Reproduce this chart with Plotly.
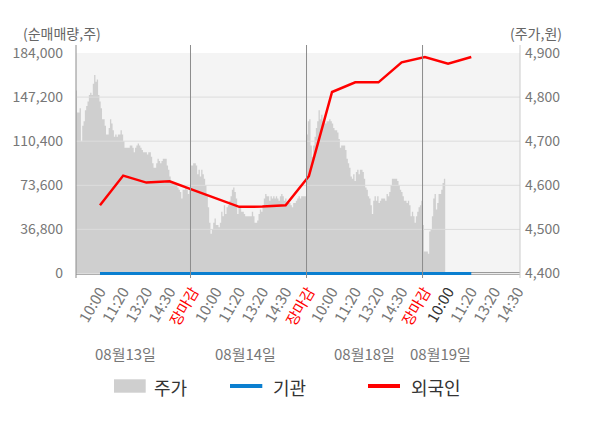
import plotly.graph_objects as go

FONT = "Noto Sans CJK KR"

# x축 라벨 (일별 시점)
tick_labels = ["10:00", "11:20", "13:20", "14:30", "장마감",
               "10:00", "11:20", "13:20", "14:30", "장마감",
               "10:00", "11:20", "13:20", "14:30", "장마감",
               "10:00", "11:20", "13:20", "14:30"]
current_tick = 15
dates = ["08월13일", "08월14일", "08월18일", "08월19일"]
date_pos = [1.11, 6.25, 11.42, 14.66]

vol_ticks = [0, 36800, 73600, 110400, 147200, 184000]
price_ticks = [4400, 4500, 4600, 4700, 4800, 4900]

# 순매매량 (주) - 시점별
foreign_net = [56940, 81700, 75870, 76950, 69780, 62530, 55610, 55860, 56940,
               81120, 151480, 159490, 159490, 176160, 180660, 175080, 180660]
inst_net = [0, 0, 0, 0, 0, 0, 0, 0, 0, 0, 0, 0, 0, 0, 0, 0, 0]

# 주가 (원) - 일중 흐름
price_0813 = [4815, 4765, 4765, 4775, 4700, 4735, 4745, 4770, 4780, 4790,
              4805, 4810, 4805, 4830, 4850, 4835, 4840, 4805, 4790, 4775,
              4750, 4750, 4735, 4715, 4715, 4730, 4750, 4740, 4725, 4710,
              4715, 4710, 4715, 4715, 4725, 4715, 4700, 4685, 4685, 4685,
              4685, 4690, 4690, 4685, 4675, 4685, 4690, 4695, 4690, 4685,
              4680, 4675, 4675, 4675, 4670, 4675, 4675, 4665, 4650, 4640,
              4640, 4650, 4660, 4655, 4650, 4655, 4660, 4660, 4660, 4645,
              4635, 4620, 4610, 4605, 4605, 4605, 4600, 4595, 4590, 4585,
              4570, 4590, 4590, 4595, 4590, 4580, 4590]
price_0814 = [4645, 4645, 4650, 4650, 4645, 4625, 4635, 4620, 4635, 4625,
              4615, 4600, 4575, 4550, 4515, 4490, 4500, 4515, 4525, 4510,
              4510, 4505, 4515, 4540, 4530, 4555, 4535, 4550, 4555, 4565,
              4575, 4590, 4595, 4585, 4570, 4535, 4550, 4550, 4540, 4540,
              4535, 4530, 4530, 4530, 4530, 4530, 4540, 4530, 4515, 4515,
              4520, 4535, 4545, 4540, 4555, 4570, 4580, 4575, 4575, 4565,
              4575, 4570, 4575, 4570, 4575, 4570, 4565, 4575, 4580, 4575,
              4565, 4570, 4560, 4565, 4560, 4555, 4550, 4560, 4560, 4565,
              4570, 4575, 4570, 4575, 4575, 4575, 4575]
price_0818 = [4715, 4745, 4750, 4690, 4665, 4690, 4710, 4730, 4745, 4770,
              4750, 4760, 4745, 4745, 4740, 4745, 4745, 4750, 4745, 4740,
              4730, 4725, 4725, 4720, 4705, 4685, 4690, 4690, 4690, 4680,
              4660, 4650, 4640, 4620, 4615, 4625, 4610, 4630, 4635, 4625,
              4635, 4635, 4630, 4615, 4595, 4590, 4575, 4570, 4555, 4535,
              4565, 4575, 4565, 4575, 4560, 4565, 4570, 4570, 4570, 4565,
              4580, 4575, 4585, 4600, 4615, 4615, 4615, 4615, 4610, 4600,
              4590, 4585, 4575, 4565, 4565, 4560, 4565, 4555, 4530, 4540,
              4530, 4515, 4530, 4540, 4550, 4555, 4565]
price_0819 = [4510, 4450, 4450, 4450, 4445, 4495, 4500, 4530, 4570, 4580,
              4545, 4560, 4580, 4580, 4590, 4605, 4615]

day_open = [-1.05, 3.9, 8.9, 13.9]
X_RANGE = [-1.034, 18.1]

# 일중 가격 x 위치
price_days = [price_0813, price_0814, price_0818, price_0819]
px_x, px_y = [], []
step = 5 / len(price_0818)
for d, vals in enumerate(price_days):
    if d + 1 < len(day_open):
        step = (day_open[d + 1] - day_open[d]) / len(vals)
    for i, v in enumerate(vals):
        px_x.append(day_open[d] + i * step)
        px_y.append(v)
px_x.append(px_x[-1] + step)
px_y.append(px_y[-1])

fig = go.Figure()

# baseline for the price area
fig.add_trace(go.Scatter(x=[px_x[0], px_x[-1]], y=[price_ticks[0]] * 2,
                         mode="lines", line=dict(width=0), hoverinfo="skip",
                         yaxis="y"))
fig.add_trace(go.Scatter(x=px_x, y=px_y, mode="lines", line_shape="hv",
                         line=dict(width=0), fill="tonexty",
                         fillcolor="#cfcfcf", name="주가", yaxis="y"))

# gridlines over the area
gx, gy = [], []
for t in price_ticks[1:-1]:
    gx += [X_RANGE[0], X_RANGE[1], None]
    gy += [t, t, None]
fig.add_trace(go.Scatter(x=gx, y=gy, mode="lines", hoverinfo="skip",
                         line=dict(color="#dcdcdc", width=1), yaxis="y"))

ks = list(range(len(foreign_net)))
fig.add_trace(go.Scatter(x=ks, y=inst_net, mode="lines", name="기관",
                         line=dict(color="#0b7fd0", width=3), yaxis="y2"))
fig.add_trace(go.Scatter(x=ks, y=foreign_net, mode="lines", name="외국인",
                         line=dict(color="#ff0000", width=2.5), yaxis="y2"))

# tick text
ticktext = []
for i, t in enumerate(tick_labels):
    if t == "장마감":
        ticktext.append('<span style="color:#ff0000">%s</span>' % t)
    elif i == current_tick:
        ticktext.append('<span style="color:#333333">%s</span>' % t)
    else:
        ticktext.append(t)

# plot area: 53px -> 275px, zero line at 273.5px
pad = 1.5 / 220.5
shapes = [
    dict(type="rect", xref="paper", yref="paper", x0=0, x1=1,
         y0=3 / 222, y1=1, fillcolor="#f4f4f4", line_width=0, layer="below"),
    dict(type="line", xref="paper", yref="paper", x0=0, x1=1,
         y0=2.5 / 222, y1=2.5 / 222, line=dict(color="#9a9a9a", width=1),
         layer="below"),
    dict(type="line", xref="paper", yref="paper", x0=0, x1=1,
         y0=0.7 / 222, y1=0.7 / 222, line=dict(color="#9a9a9a", width=1),
         layer="below"),
    dict(type="line", xref="paper", yref="paper", x0=0, x1=0,
         y0=-3 / 222, y1=230 / 222, line=dict(color="#8c8c8c", width=1)),
    dict(type="line", xref="paper", yref="paper", x0=1, x1=1,
         y0=-3 / 222, y1=230 / 222, line=dict(color="#cccccc", width=1)),
]
for b in day_open[1:]:
    shapes.append(dict(type="line", xref="x", yref="paper", x0=b, x1=b,
                       y0=-3 / 222, y1=230 / 222,
                       line=dict(color="#8c8c8c", width=1)))

# legend (custom)
def lx(p):
    return (p - 76) / 444

def ly(p):
    return (275 - p) / 222

shapes += [
    dict(type="rect", xref="paper", yref="paper", x0=lx(114), x1=lx(145.7),
         y0=ly(392.7), y1=ly(379.3), fillcolor="#cfcfcf", line_width=0),
    dict(type="line", xref="paper", yref="paper", x0=lx(230), x1=lx(262.3),
         y0=ly(386), y1=ly(386), line=dict(color="#0b7fd0", width=4)),
    dict(type="line", xref="paper", yref="paper", x0=lx(368), x1=lx(400),
         y0=ly(386), y1=ly(386), line=dict(color="#ff0000", width=4)),
]

annotations = [
    dict(text="(순매매량,주)", xref="paper", yref="paper", x=lx(61.5),
         y=ly(33), xanchor="center", yanchor="middle", showarrow=False,
         font=dict(size=14, color="#666")),
    dict(text="(주가,원)", xref="paper", yref="paper", x=lx(536),
         y=ly(33), xanchor="center", yanchor="middle", showarrow=False,
         font=dict(size=14, color="#666")),
]
for name, xpos in zip(["주가", "기관", "외국인"], [152, 270.5, 409]):
    annotations.append(dict(text=name, xref="paper", yref="paper",
                            x=lx(xpos), y=ly(386.7), xanchor="left",
                            yanchor="middle", showarrow=False,
                            font=dict(size=18, color="#333")))
for dt, xp in zip(dates, date_pos):
    annotations.append(dict(text=dt, xref="x", yref="paper", x=xp,
                            y=ly(353.3), xanchor="center", yanchor="middle",
                            showarrow=False,
                            font=dict(size=15, color="#777")))

fig.update_layout(
    width=600, height=428,
    margin=dict(l=76, r=80, t=53, b=153),
    paper_bgcolor="white",
    plot_bgcolor="rgba(0,0,0,0)",
    showlegend=False,
    hovermode=False,
    font=dict(family=FONT, size=14, color="#777"),
    xaxis=dict(range=X_RANGE, tickvals=list(range(len(tick_labels))),
               ticktext=ticktext, tickangle=-60, tickfont=dict(size=15),
               showgrid=False, zeroline=False, showline=False, ticks="",
               ticklabelstandoff=4),
    yaxis=dict(side="right", tickvals=price_ticks, tickformat=",",
               range=[price_ticks[0] - 500 * pad, price_ticks[-1]],
               showgrid=False, zeroline=False, showline=False, ticks="",
               ticklabelstandoff=4),
    yaxis2=dict(side="left", overlaying="y", tickvals=vol_ticks,
                tickformat=",", range=[-vol_ticks[-1] * pad, vol_ticks[-1]],
                showgrid=False, zeroline=False, showline=False, ticks="",
                ticklabelstandoff=12),
    shapes=shapes,
    annotations=annotations,
)

fig.write_html("out.html", config={"displayModeBar": False},
               post_script="document.body.style.margin='0px';")
